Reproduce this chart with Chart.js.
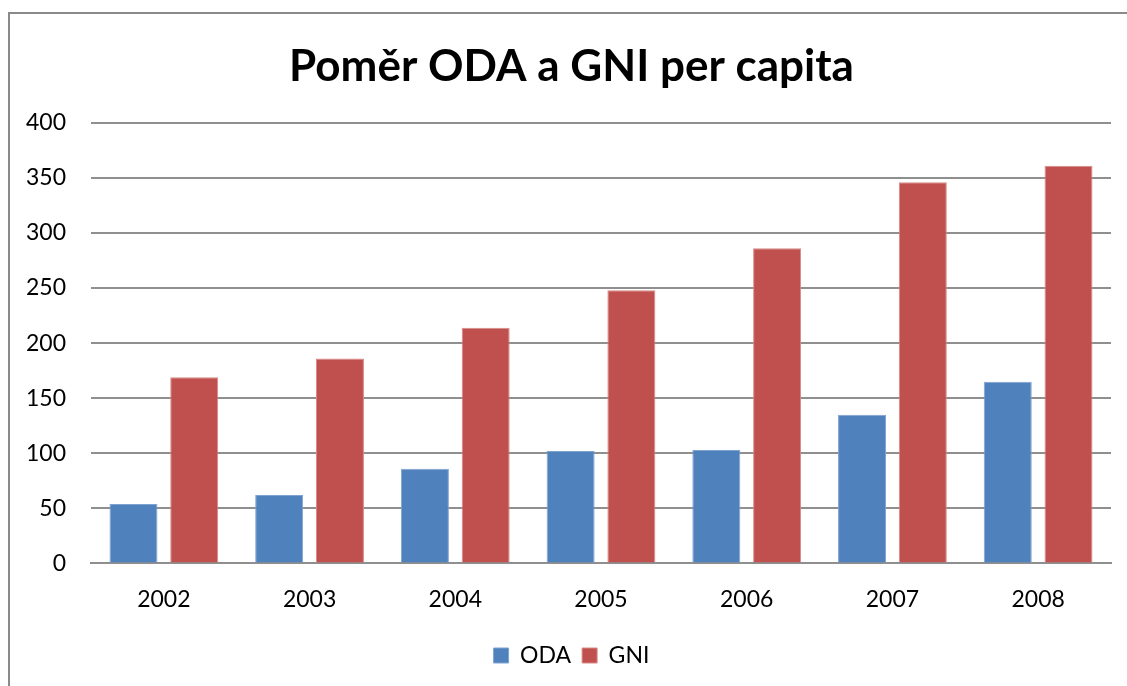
<!DOCTYPE html>
<html>
<head>
<meta charset="utf-8">
<script src="https://cdn.jsdelivr.net/npm/chart.js@4"></script>
<style>
html,body{margin:0;padding:0;background:#fff;overflow:hidden;}
#wrap{position:relative;width:1127px;height:686px;}
#frame{position:absolute;left:8px;top:12px;width:1140px;height:700px;border:2px solid #8a8a8a;box-sizing:border-box;pointer-events:none;}
canvas{position:absolute;left:0;top:0;}
</style>
</head>
<body>
<div id="wrap">
<canvas id="c" width="1127" height="686"></canvas>
<div id="frame"></div>
</div>
<script>
const titleText = 'Poměr ODA a GNI per capita';
const years = ['2002','2003','2004','2005','2006','2007','2008'];
const odaValues = [54, 62, 86, 102, 103, 135, 165];
const gniValues = [169, 186, 214, 248, 286, 346, 361];
const seriesNames = ['ODA','GNI'];
const yTicks = [0, 50, 100, 150, 200, 250, 300, 350, 400];

const FONT = "Lato, 'Open Sans', 'Noto Sans', sans-serif";

new Chart(document.getElementById('c'), {
  type: 'bar',
  data: {
    labels: years,
    datasets: [
      {label: seriesNames[0], data: odaValues, backgroundColor: '#4F81BD', borderColor: '#7fa3d0', borderWidth: 1},
      {label: seriesNames[1], data: gniValues, backgroundColor: '#C0504D', borderColor: '#d88a88', borderWidth: 1}
    ]
  },
  options: {
    responsive: false,
    animation: false,
    categoryPercentage: 0.834,
    barPercentage: 0.79,
    layout: {padding: {left: 20, right: 4, top: 20, bottom: 9}},
    plugins: {
      title: {
        display: true, text: titleText, color: '#000',
        font: {family: FONT, size: 44, weight: 'bold'},
        padding: {top: 20, bottom: 30}
      },
      legend: {
        position: 'bottom',
        labels: {
          color: '#000', boxWidth: 15, boxHeight: 15, padding: 11,
          font: {family: FONT, size: 23}
        }
      },
      tooltip: {enabled: false}
    },
    scales: {
      x: {
        afterFit: (axis) => { axis.height = axis.height - 2; },
        grid: {display: false, drawTicks: false},
        border: {display: true, color: '#8f8f8f', width: 2},
        ticks: {color: '#000', font: {family: FONT, size: 23}, padding: 22}
      },
      y: {
        min: 0, max: 400,
        afterBuildTicks: (axis) => { axis.ticks = yTicks.map(v => ({value: v})); },
        afterFit: (axis) => { axis.width = 71; },
        grid: {color: '#8f8f8f', lineWidth: 2, drawTicks: false},
        border: {display: false},
        ticks: {color: '#000', font: {family: FONT, size: 23}, padding: 25}
      },
      yRight: {
        type: 'linear', position: 'right', min: 0, max: 400,
        afterFit: (axis) => { axis.width = 12; },
        grid: {display: false, drawTicks: false},
        border: {display: false},
        ticks: {display: false}
      }
    }
  }
});
</script>
</body>
</html>
